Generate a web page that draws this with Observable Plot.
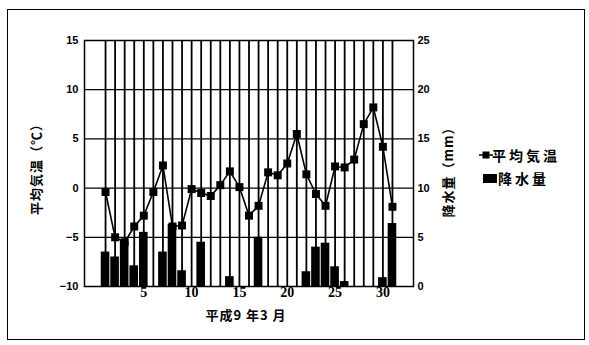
<!DOCTYPE html>
<html>
<head>
<meta charset="utf-8">
<script src="https://cdn.jsdelivr.net/npm/d3@7"></script>
<script src="https://cdn.jsdelivr.net/npm/@observablehq/plot@0.6"></script>
<style>
  html, body { margin: 0; padding: 0; background: #fff; }
  #wrap { position: relative; width: 589px; height: 345px; overflow: hidden; background: #fff; }
  #frame { position: absolute; left: 7px; top: 9px; width: 578px; height: 331px; border: 1.5px solid #000; box-sizing: border-box; }
  #chart { position: absolute; left: 0; top: 0; }
  .jp { position: absolute; font-family: "Noto Sans CJK JP", sans-serif; font-weight: 700; color: #000; white-space: nowrap; line-height: 1; }
  .rot { transform: translate(-50%, -50%) rotate(-90deg); }
</style>
</head>
<body>
<div id="wrap">
  <div id="frame"></div>
  <div id="chart"></div>
  <div class="jp rot" style="left:35px; top:166px; font-size:13px; letter-spacing:1px;">平均気温（℃）</div>
  <div class="jp rot" style="left:447px; top:169px; font-size:13px; letter-spacing:1px;">降水量（mm）</div>
  <div class="jp" style="left:246px; top:314px; transform:translate(-50%,-50%); font-size:13px; letter-spacing:1px;">平成9 年3 月</div>
  <svg style="position:absolute; left:478px; top:149px;" width="20" height="12">
    <line x1="1" y1="6" x2="15" y2="6" stroke="#000" stroke-width="1.5"/>
    <rect x="4.5" y="2.5" width="7" height="7" fill="#000"/>
  </svg>
  <div class="jp" style="left:492px; top:148px; font-size:14px; letter-spacing:3px;">平均気温</div>
  <svg style="position:absolute; left:483px; top:174px;" width="14" height="9">
    <rect x="0" y="0" width="14" height="9" fill="#000"/>
  </svg>
  <div class="jp" style="left:498px; top:171px; font-size:14px; letter-spacing:3px;">降水量</div>
</div>
<script>
// Day of month (March, Heisei 9)
const days = [1,2,3,4,5,6,7,8,9,10,11,12,13,14,15,16,17,18,19,20,21,22,23,24,25,26,27,28,29,30,31];
// Mean temperature (°C), left axis
const temperature = [-0.4,-5.0,-5.5,-3.9,-2.8,-0.4,2.3,-3.9,-3.8,-0.1,-0.5,-0.8,0.3,1.7,0.1,-2.8,-1.8,1.6,1.3,2.5,5.5,1.4,-0.6,-1.8,2.2,2.1,2.9,6.5,8.2,4.2,-1.9];
// Precipitation (mm), right axis
const precipitation = [3.5,3.0,4.6,2.1,5.5,0,3.5,6.3,1.6,0,4.5,0,0,1.0,0,0,5.0,0,0,0,0,1.5,4.0,4.4,2.0,0.5,0,0,0,0.9,6.4];
// Tick labels
const xTicks = [5,10,15,20,25,30];
const tempTicks = [-10,-5,0,5,10,15];
const precipTicks = [0,5,10,15,20,25];

const tempMin = -10; // right axis 0 mm aligns with -10 °C; 5 mm per 5 °C
const rows = days.map((d, i) => ({day: d, temp: temperature[i], precip: precipitation[i]}));
const rainRows = rows.filter(r => r.precip > 0);

const tickText = {fontFamily: "'Liberation Sans', Arial, sans-serif", fontWeight: "bold", fontSize: 11};

const chart = Plot.plot({
  width: 589,
  height: 345,
  marginLeft: 84,
  marginRight: 176,
  marginTop: 40,
  marginBottom: 59,
  x: {domain: [-1.2, 33.2]},
  y: {domain: [-10, 15]},
  style: {background: "transparent", color: "#000"},
  marks: [
    Plot.ruleY([-5, 0, 5, 10], {stroke: "#000", strokeWidth: 1.3}),
    Plot.ruleX(days, {stroke: "#000", strokeWidth: 1.8}),
    Plot.rect(rainRows, {
      x1: d => d.day - 0.45,
      x2: d => d.day + 0.45,
      y1: () => tempMin,
      y2: d => d.precip + tempMin,
      fill: "#000"
    }),
    Plot.line(rows, {x: "day", y: "temp", stroke: "#000", strokeWidth: 1.6}),
    Plot.dot(rows, {x: "day", y: "temp", symbol: "square", r: 4.5, fill: "#000", stroke: "none"}),
    Plot.frame({stroke: "#000", strokeWidth: 1.5}),
    Plot.axisY(tempTicks, {anchor: "left", tickSize: 0, tickPadding: 6, label: null, tickFormat: d => String(d).replace("-", "−"), ...tickText}),
    Plot.axisY(precipTicks.map(p => p + tempMin), {anchor: "right", tickSize: 0, tickPadding: 4, label: null, tickFormat: d => String(d - tempMin), ...tickText}),
    Plot.axisX(xTicks, {anchor: "bottom", tickSize: 0, tickPadding: 1, label: null, fontFamily: "'Liberation Serif', 'DejaVu Serif', serif", fontWeight: "bold", fontSize: 14})
  ]
});
document.getElementById("chart").appendChild(chart);
</script>
</body>
</html>
